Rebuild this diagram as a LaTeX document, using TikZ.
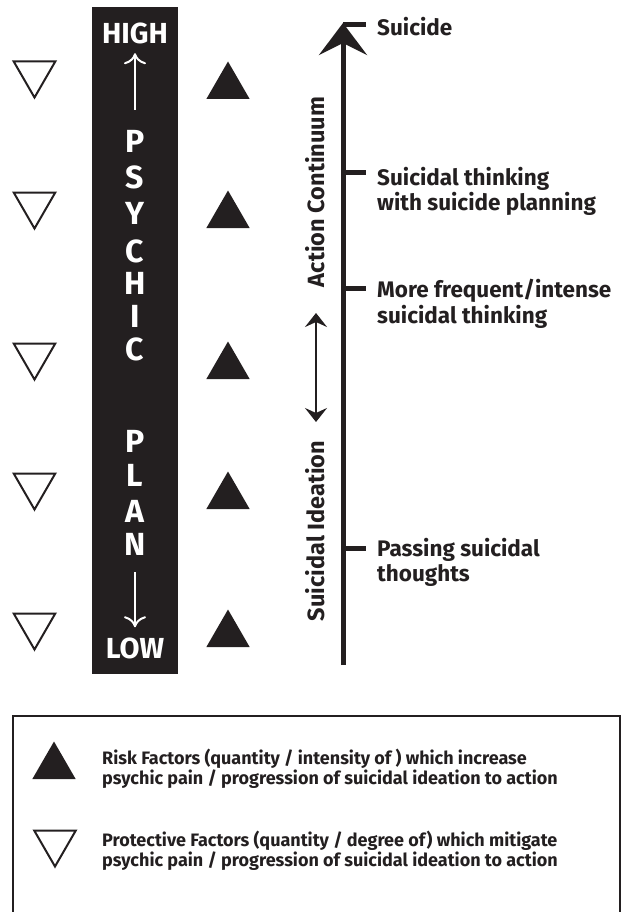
\documentclass[tikz,border=0pt]{standalone}
\usepackage{fontspec}
\setmainfont{Fira Sans}
\usetikzlibrary{arrows.meta}
\usetikzlibrary{shapes.geometric}
\usetikzlibrary{positioning}
\definecolor{ink}{RGB}{35,31,32}
\tikzset{
  risk/.style={regular polygon, regular polygon sides=3, minimum size=50pt,
    inner sep=0pt, outer sep=0pt, fill=ink}, % Risikofaktor
  protect/.style={regular polygon, regular polygon sides=3, shape border rotate=180,
    minimum size=48pt, inner sep=0pt, outer sep=0pt, draw=ink, line width=2pt}, % Schutzfaktor
  barletter/.style={text=white, inner sep=0pt, font=\bfseries\fontsize{32}{32}\selectfont},
  barend/.style={text=white, inner sep=0pt, font=\bfseries\fontsize{29}{29}\selectfont},
  stage/.style={text=ink, inner sep=0pt, anchor=north west, align=left,
    font=\bfseries\fontsize{22.5}{25.5}\selectfont},
  sidelabel/.style={text=ink, inner sep=0pt, rotate=90, font=\bfseries\fontsize{23.5}{23.5}\selectfont},
  keytext/.style={text=ink, inner sep=0pt, anchor=north west, align=left,
    font=\bfseries\fontsize{18}{20}\selectfont},
  whitearrow/.style={white, line width=2pt, -{Computer Modern Rightarrow[length=11pt,width=22pt]}},
  axis/.style={ink, line width=5pt, -{Stealth[length=32pt,width=48pt,inset=12pt]}},
  tick/.style={ink, line width=5pt},
  dblarrow/.style={ink, line width=2.5pt, {Stealth[length=14pt,width=22pt,inset=5pt]}-{Stealth[length=14pt,width=22pt,inset=5pt]}}
}
\begin{document}
\begin{tikzpicture}[x=1pt, y=-1pt]
\useasboundingbox (0,0) rectangle (626,912);

%Balken
\node[fill=ink, minimum width=86pt, minimum height=667pt, inner sep=0pt] (bar) at (135,340.5) {};
\node[barend] (high) at (135,33.5) {HIGH};
\node[barend] (low) at (135,648) {LOW};
\foreach \l/\y [count=\i] in {P/141,S/177.5,Y/213,C/251,H/283,I/316,C/349.5}
  \node[barletter] (psy\i) at (135,\y) {\l};
\foreach \l/\y [count=\i] in {P/441,L/475,A/511,N/544}
  \node[barletter] (plan\i) at (135,\y) {\l};
\draw[whitearrow, shorten <=20pt, shorten >=9pt] (psy1.north) -- (high.south);
\draw[whitearrow, shorten <=17pt, shorten >=10pt] (plan4.south) -- (low.north);

%Dreiecke
\foreach \yp/\yr [count=\i] in {73.5/86.5, 204.5/215.5, 355.5/366.5, 485.5/496.5, 625.5/634.5}{
  \node[protect] (prot\i) at (34.5,\yp) {};
  \node[risk] (risk\i) at (228,\yr) {};
}

%Achse
\coordinate (axbot) at (343,665);
\coordinate (axtop) at (343,23);
\draw[axis] (axbot) -- (axtop);
\foreach \n/\y in {suicide/25, plan/172.5, freq/288, pass/548}{
  \coordinate (t-\n) at (343,\y);
  \coordinate (e-\n) at (366,\y);
  \draw[tick] (t-\n) -- (e-\n);
}

%Stufen
\node[stage] (l-suicide) at (377,17) {Suicide};
\node[stage] (l-plan) at (377,167) {Suicidal thinking\\with suicide planning};
\node[stage] (l-freq) at (377,279) {More frequent/intense\\suicidal thinking};
\node[stage] (l-pass) at (377,538) {Passing suicidal\\thoughts};

%Seitenbeschriftung
\node[sidelabel] (action) at (315,192) {Action Continuum};
\node[sidelabel] (ideation) at (315,531) {Suicidal Ideation};
\coordinate (da-top) at (316,313);
\coordinate (da-bot) at (316,422);
\draw[dblarrow] (da-bot) -- (da-top);

%Legende
\draw[ink, line width=2pt] (13,913) -- (13,716) -- (620,716) -- (620,913);
\node[risk] (key-risk) at (54,766.5) {};
\node[protect] (key-prot) at (55,842.5) {};
\node[keytext] (risk-text) at (102,749)
  {Risk Factors (quantity / intensity of ) which increase\\psychic pain / progression of suicidal ideation to action};
\node[keytext] (prot-text) at (102,831)
  {Protective Factors (quantity / degree of) which mitigate\\psychic pain / progression of suicidal ideation to action};
\end{tikzpicture}
\end{document}
